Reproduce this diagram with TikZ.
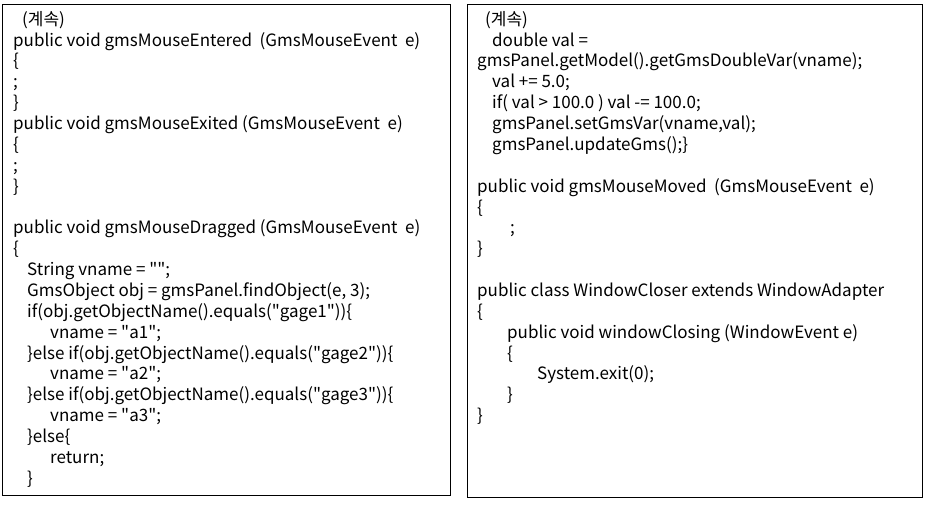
\documentclass[tikz,border=0pt]{standalone}
\usepackage{fontspec}
\setmainfont{Noto Sans CJK KR}[Ligatures=TeXOff]
\usetikzlibrary{positioning}
\tikzstyle{panel} = [rectangle, draw, line width=1.2pt, inner sep=0pt]
\tikzstyle{code} = [align=left, inner sep=0pt,
    font=\fontsize{17}{20.86}\selectfont]

\begin{document}
\begin{tikzpicture}[x=1pt,y=-1pt]
    \useasboundingbox (0,0) rectangle (928,504);
    % Place frames
    \node [panel, anchor=north west, minimum width=448pt, minimum height=491pt] (left) at (2,4) {};
    \node [panel, anchor=north west, minimum width=455pt, minimum height=493pt] (right) at (467,4) {};
    % Code of the left frame
    \node [code, below right=7pt and 11pt of left.north west] (leftcode) {%
        \hspace*{9pt}(계속)\\
        public void gmsMouseEntered\ \ (GmsMouseEvent\ \ e)\\
        \{\\
        ;\\
        \}\\
        public void gmsMouseExited\ (GmsMouseEvent\ \ e)\\
        \{\\
        ;\\
        \}\\
        \mbox{}\\
        public void gmsMouseDragged (GmsMouseEvent\ \ e)\\
        \{\\
        \hspace*{14pt}String vname = "";\\
        \hspace*{14pt}GmsObject obj = gmsPanel.findObject(e, 3);\\
        \hspace*{14pt}if(obj.getObjectName().equals("gage1"))\{\\
        \hspace*{37pt}vname = "a1";\\
        \hspace*{14pt}\}else if(obj.getObjectName().equals("gage2"))\{\\
        \hspace*{37pt}vname = "a2";\\
        \hspace*{14pt}\}else if(obj.getObjectName().equals("gage3"))\{\\
        \hspace*{37pt}vname = "a3";\\
        \hspace*{14pt}\}else\{\\
        \hspace*{37pt}return;\\
        \hspace*{14pt}\}};
    % Code of the right frame
    \node [code, below right=7pt and 10pt of right.north west] (rightcode) {%
        \hspace*{8pt}(계속)\\
        \hspace*{15pt}double val =\\
        gmsPanel.getModel().getGmsDoubleVar(vname);\\
        \hspace*{15pt}val += 5.0;\\
        \hspace*{15pt}if( val > 100.0 ) val -= 100.0;\\
        \hspace*{15pt}gmsPanel.setGmsVar(vname,val);\\
        \hspace*{15pt}gmsPanel.updateGms();\}\\
        \mbox{}\\
        public void gmsMouseMoved\ \ (GmsMouseEvent\ \ e)\\
        \{\\
        \hspace*{33pt};\\
        \}\\
        \mbox{}\\
        public class WindowCloser extends WindowAdapter\\
        \{\\
        \hspace*{30pt}public void windowClosing (WindowEvent e)\\
        \hspace*{30pt}\{\\
        \hspace*{60pt}System.exit(0);\\
        \hspace*{30pt}\}\\
        \}};
\end{tikzpicture}
\end{document}
